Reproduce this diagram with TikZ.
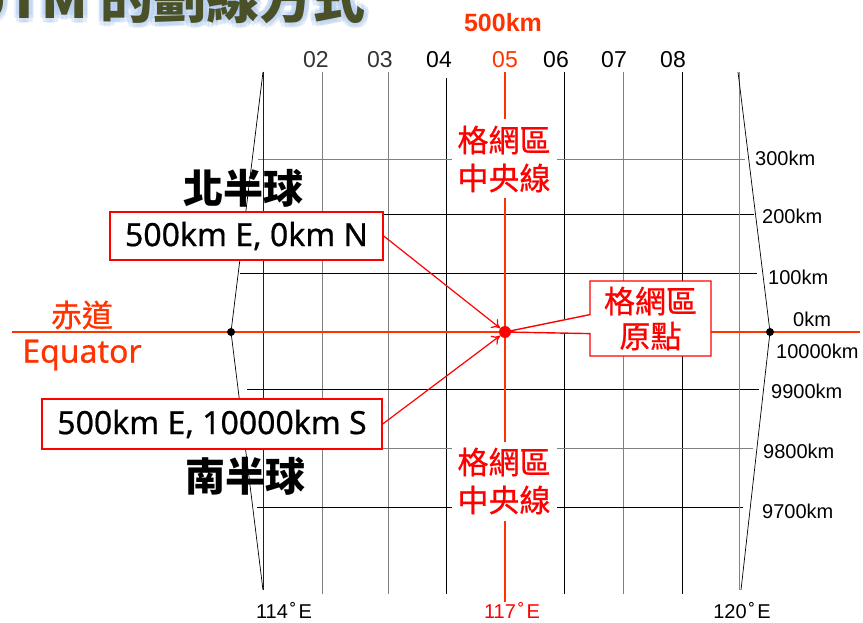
\documentclass[tikz,border=0pt]{standalone}
\usepackage{fontspec}
\setmainfont{Liberation Sans}
\newfontfamily\cjk{Noto Sans CJK TC}
\newfontfamily\cjkmed{Noto Sans CJK TC}[FakeBold=0.8]
\newfontfamily\notosans{Noto Sans}[FakeBold=0.6]
\usetikzlibrary{arrows.meta,shapes.callouts,calc}
\definecolor{eqred}{RGB}{255,51,0}
\definecolor{gridred}{RGB}{255,0,0}
\definecolor{titleolive}{RGB}{74,80,40}
\definecolor{glowblue}{RGB}{178,204,238}
\definecolor{paleblue}{RGB}{115,115,255}
\tikzstyle{gridline} = [line width=0.8pt, black]
\tikzstyle{coordbox} = [draw=gridred, line width=1.4pt, fill=white, inner sep=0pt, font=\notosans\fontsize{32}{38}\selectfont]
\tikzstyle{zonelabel} = [fill=white, text=gridred, align=center, inner sep=0pt, minimum width=105pt, minimum height=79pt, font=\cjkmed\fontsize{31}{38}\selectfont]
\tikzstyle{pointarrow} = [gridred, line width=1.2pt, -{To[length=8pt,width=11pt]}]
\tikzstyle{kmlabel} = [anchor=west, inner sep=0pt, font=\fontsize{20}{24}\selectfont]
\tikzstyle{zonenum} = [anchor=base, inner sep=0pt, font=\fontsize{23}{26}\selectfont]
\tikzstyle{deglabel} = [anchor=base, inner sep=0pt, font=\fontsize{20}{24}\selectfont]
\tikzstyle{dot} = [circle, fill=black, inner sep=0pt, minimum size=8pt]

\begin{document}
\begin{tikzpicture}[x=1pt,y=-1pt]
\path[use as bounding box, clip] (0,0) rectangle (863,623);
\fill[white] (0,0) rectangle (863,623);
% title (cut at the top)
\foreach \a in {0,45,...,315}
  \node[anchor=base east, text=glowblue, opacity=0.35, font=\cjk\bfseries\fontsize{53}{60}\selectfont] at ($(369,19)+(\a:5)$) {UTM 的劃線方式};
\node (title) [anchor=base east, text=titleolive, font=\cjk\bfseries\fontsize{53}{60}\selectfont] at (369,19) {UTM 的劃線方式};
% vertical grid lines
\foreach \x/\col/\top in {322/gray/72, 388/gray/72, 446/black/78, 564/black/72, 623/gray/72, 682/black/72}
  \draw[gridline, \col] (\x,\top) -- (\x,594);
% horizontal grid lines
\foreach \y/\xa/\xb/\col in {159/258/745/gray, 214/245/754/black, 273/240/757/black, 389/247/759/black, 448/250/753/gray, 507/257/743/black}
  \draw[gridline, \col] (\xa,\y) -- (\xb,\y);
% zone boundaries
\draw[blue, line width=0.8pt] (263,72) -- (263,590);
\draw[paleblue, line width=1pt] (739,72) -- (739,590);
\draw[line width=0.7pt] (263,72) -- (231,332) -- (263,590);
\draw[line width=0.7pt] (738,72) -- (770,332) -- (741,590);
% equator and central meridian
\draw[eqred, line width=2.5pt] (12,332) -- (860,332);
\draw[eqred, line width=2pt] (505,72) -- (505,602);
\node (west) [dot] at (231,332) {};
\node (east) [dot] at (770,332) {};
\node (org) [circle, fill=gridred, inner sep=0pt, minimum size=12pt] at (505,332) {};
% zone numbers
\node (z02) [zonenum, text=black!80] at (316,68) {02};
\node (z03) [zonenum, text=black!80] at (380,68) {03};
\node (z04) [zonenum] at (439,68) {04};
\node (z05) [zonenum, text=eqred] at (505,68) {05};
\node (z06) [zonenum] at (556,68) {06};
\node (z07) [zonenum] at (614,68) {07};
\node (z08) [zonenum] at (673,68) {08};
\node (km500) [anchor=base, text=eqred, font=\bfseries\fontsize{25}{30}\selectfont] at (503,32) {500km};
% northing labels
\node (n300) [kmlabel] at (755,158) {300km};
\node (n200) [kmlabel] at (762,216) {200km};
\node (n100) [kmlabel] at (768,277) {100km};
\node (n0) [kmlabel] at (793,319) {0km};
\node (s10000) [kmlabel] at (776,351) {10000km};
\node (s9900) [kmlabel] at (771,391) {9900km};
\node (s9800) [kmlabel] at (763,451) {9800km};
\node (s9700) [kmlabel] at (762,511) {9700km};
% longitudes
\node (lon114) [deglabel] at (284,618) {114\kern2pt˚\kern2ptE};
\node (lon117) [deglabel, text=gridred] at (512,618) {117\kern2pt˚\kern2ptE};
\node (lon120) [deglabel] at (742,618) {120\kern2pt˚\kern2ptE};
% central meridian labels
\node (cmtop) [zonelabel] at (504,159) {格網區\\中央線};
\node (cmbot) [zonelabel] at (504,481) {格網區\\中央線};
% hemispheres and equator
\node (north) [font=\cjk\bfseries\fontsize{40}{44}\selectfont] at (243,188) {北半球};
\node (south) [font=\cjk\bfseries\fontsize{40}{44}\selectfont] at (245,476) {南半球};
\node (eqzh) [text=eqred, font=\cjkmed\fontsize{31}{36}\selectfont] at (82,315) {赤道};
\node (eqen) [text=eqred, font=\notosans\fontsize{32}{36}\selectfont] at (82,355) {Equator};
% coordinate callouts
\node (nbox) [coordbox, minimum width=273pt, minimum height=48pt] at (246.5,236) {500km E, 0km N};
\node (sbox) [coordbox, minimum width=340pt, minimum height=50pt] at (212,424) {500km E, 10000km S};
\draw[pointarrow] (nbox.east) -- (org);
\draw[pointarrow] (sbox.east) -- (org);
\node (obox) [rectangle callout, callout absolute pointer={(org.center)}, callout pointer width=19pt,
  draw=gridred, line width=1.4pt, fill=white, text=gridred, align=center, inner sep=0pt,
  minimum width=121pt, minimum height=75pt, font=\cjkmed\fontsize{31}{35}\selectfont] at (650.5,318.5) {格網區\\原點};
\end{tikzpicture}
\end{document}
